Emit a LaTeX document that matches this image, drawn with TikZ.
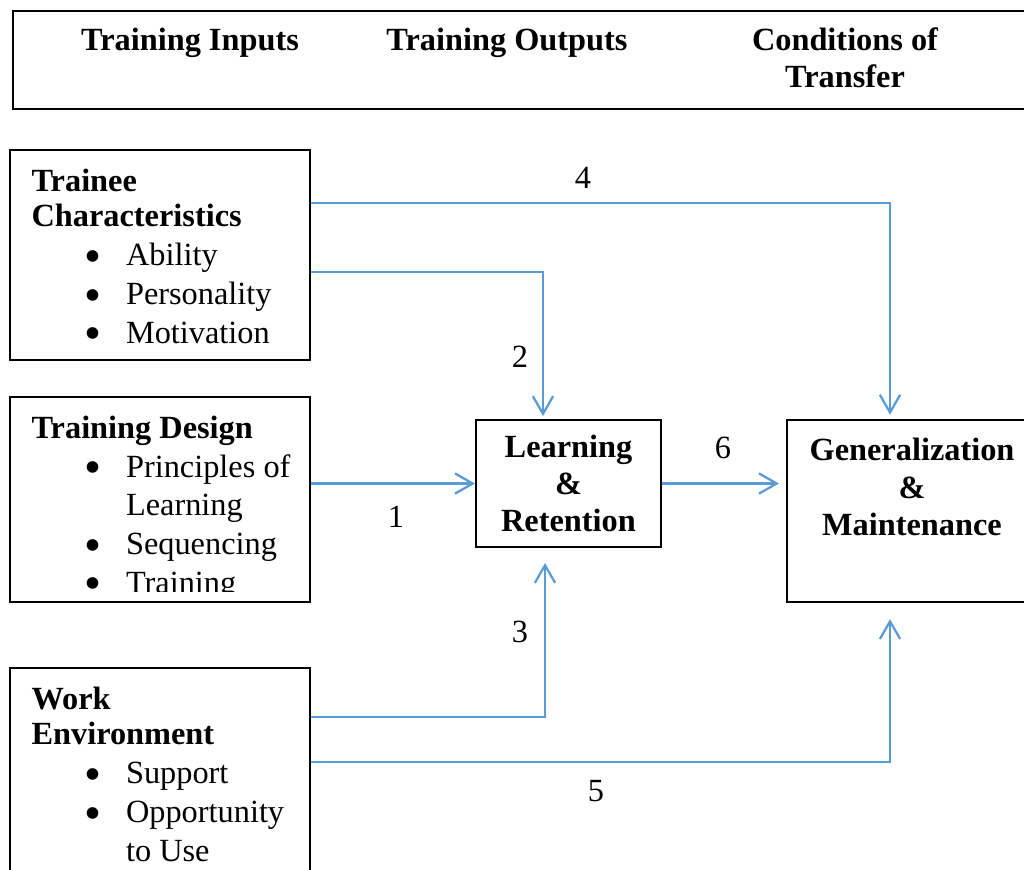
\documentclass[tikz,border=0pt]{standalone}
\usepackage{fontspec}
\setmainfont{Liberation Serif}
\usepackage{xcolor}
\usetikzlibrary{calc, arrows.meta, positioning}
\definecolor{lineblue}{RGB}{91, 155, 213}
\tikzset{
    boxnode/.style = {draw, rectangle, line width=0.7pt, inner sep=0em},
    textnode/.style = {draw=none, fill=none, rectangle, inner sep=0em, 
      font=\fontsize{11.5}{13.8}\selectfont},
    headnode/.style = {textnode, font=\fontsize{11.5}{13.2}\selectfont\bfseries, align=center},
    listnode/.style = {textnode, align=left, anchor=north west, xshift=0.275cm, yshift=-0.24cm},
    connect/.style = {lineblue, line width=0.8pt, -{Straight Barb[length=6.3pt, width=7.2pt]}}
}
\newcommand{\bul}[1]{\hspace*{18.8pt}\makebox[14.8pt][l]{\raisebox{-0.2em}[0pt][0pt]{\scalebox{1.5}{\textbullet}}}#1}
\newcommand{\hang}[1]{\hspace*{33.6pt}#1}

\begin{document}
\begin{tikzpicture}[x=0.0125cm, y=-0.0125cm]
    \useasboundingbox (0,0) rectangle (1024,869);
    \clip (0,0) rectangle (1024,869);

    \node [name=head, boxnode, minimum width=13cm, minimum height=1.225cm, anchor=north west] at (12,10) {};
    \node [name=inputs, headnode, anchor=base] at (190,50) {Training Inputs};
    \node [name=outputs, headnode, anchor=base] at (507,50) {Training Outputs};
    \node [name=transfer, headnode] at (845,58) {Conditions of\\Transfer};

    \node [name=trainee, boxnode, minimum width=3.75cm, minimum height=2.625cm] at (160,255) {};
    \node [name=design, boxnode, minimum width=3.75cm, minimum height=2.5625cm] at (160,499.5) {};
    \node [name=work, boxnode, minimum width=3.75cm, minimum height=3cm, anchor=north] at (160,667) {};

    \node [name=traineetext, listnode] at (trainee.north west) 
        {\textbf{Trainee}\\[-1.1pt]\textbf{Characteristics}\\\bul{Ability}\\\bul{Personality}\\\bul{Motivation}};
    \begin{scope}
        \clip (design.north west) rectangle ($(design.south east)+(0,-12)$);
        \node [name=designtext, listnode] at (design.north west) 
            {\textbf{Training Design}\\\bul{Principles of}\\\hang{Learning}\\\bul{Sequencing}\\\bul{Training}};
    \end{scope}
    \node [name=worktext, listnode] at (work.north west) 
        {\textbf{Work}\\[-1.1pt]\textbf{Environment}\\\bul{Support}\\\bul{Opportunity}\\\hang{to Use}};

    \node [name=learn, headnode, boxnode, minimum width=2.3125cm, minimum height=1.5875cm] 
        at (568.5,483.5) {Learning\\\&\\Retention};
    \node [name=gen, boxnode, minimum width=3.125cm, minimum height=2.275cm] at (912,511) {};
    \node [name=gentext, headnode] at (912,487) {Generalization\\\&\\Maintenance};

    \coordinate (bend4) at (890,203);
    \coordinate (bend2) at (543,272);
    \coordinate (bend3) at (545,717);
    \coordinate (bend5) at (890,762);

    \draw [connect, shorten >=1.5pt] (trainee.east |- bend4) -- (bend4) -- (gen.north -| bend4);
    \draw [connect, shorten >=1pt] (trainee.east |- bend2) -- (bend2) -- (learn.north -| bend2);
    \draw [connect] (design.east |- learn.west) -- (learn.west);
    \draw [connect, shorten >=5.3pt] (work.east |- bend3) -- (bend3) -- (learn.south -| bend3);
    \draw [connect, shorten >=5.7pt] (work.east |- bend5) -- (bend5) -- (gen.south -| bend5);
    \draw [connect, shorten >=2.5pt] (learn.east) -- (gen.west |- learn.east);

    \node [name=n1, textnode] at (396,517) {1};
    \node [name=n2, textnode] at (520,357) {2};
    \node [name=n3, textnode] at (520,632) {3};
    \node [name=n4, textnode] at (583,178) {4};
    \node [name=n5, textnode] at (596,791) {5};
    \node [name=n6, textnode] at (723,448) {6};
\end{tikzpicture}
\end{document}
